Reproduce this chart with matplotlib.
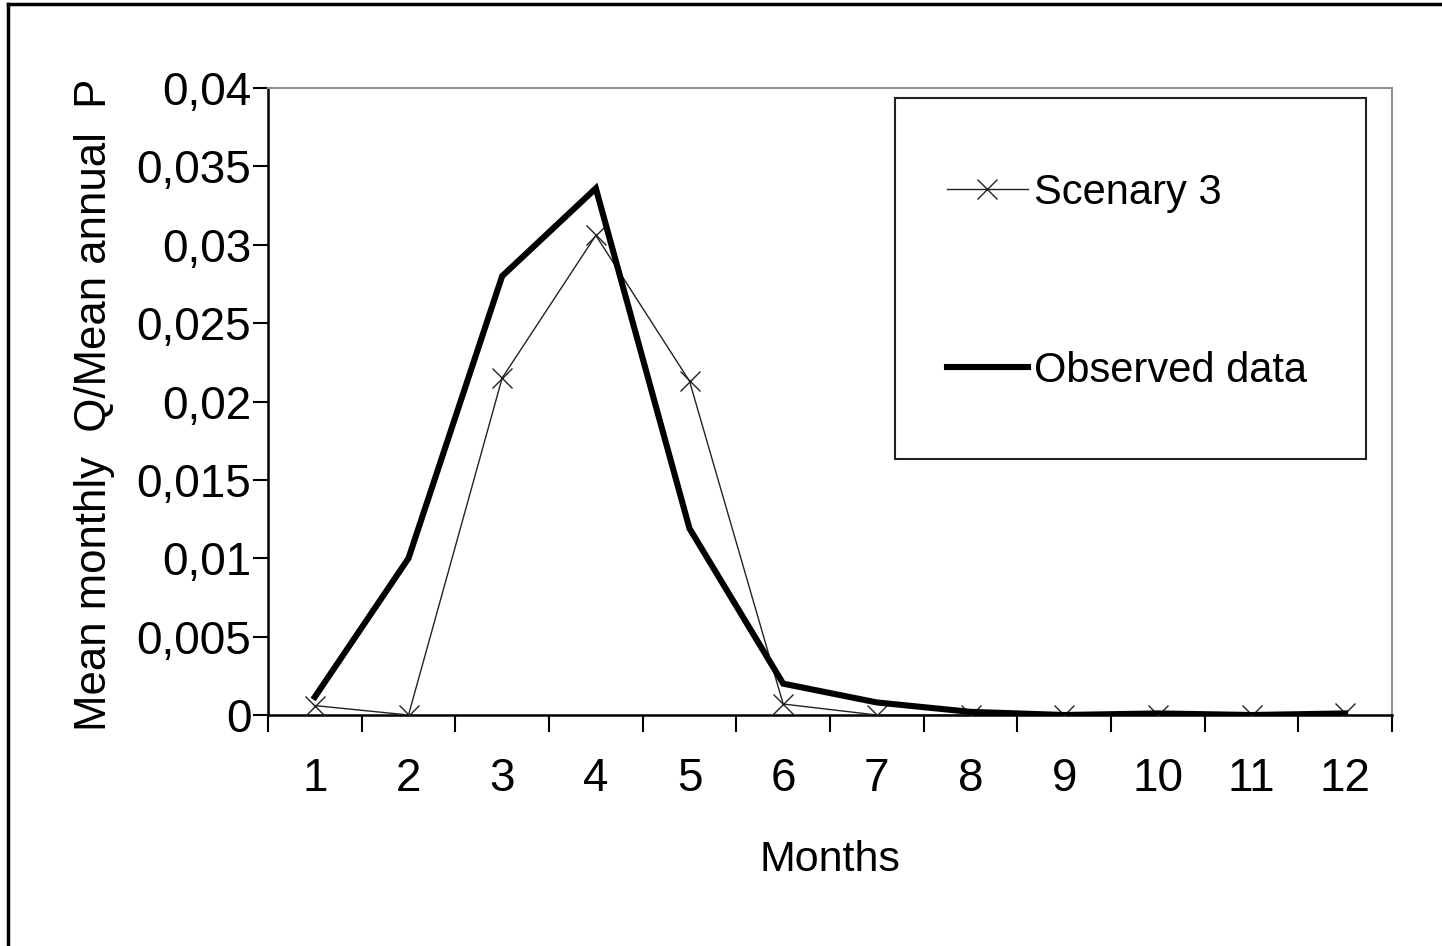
import numpy as np
import matplotlib.pyplot as plt
from matplotlib.patches import Rectangle
from matplotlib.lines import Line2D
from matplotlib.ticker import FuncFormatter, FixedLocator

plt.rcParams["font.family"] = ["Liberation Sans", "DejaVu Sans"]

months = [1, 2, 3, 4, 5, 6, 7, 8, 9, 10, 11, 12]
scenary3 = [0.0006, 0.0, 0.0215, 0.0306, 0.0213, 0.0007, 0.0, 0.0, 0.0, 0.0, 0.0, 0.0001]
observed = [0.00115, 0.0100, 0.0280, 0.0336, 0.0119, 0.0020, 0.0008, 0.0002, 0.0, 0.0001, 0.0, 0.0001]
y_ticks = [0, 0.005, 0.01, 0.015, 0.02, 0.025, 0.03, 0.035, 0.04]

W, H = 1442, 946
fig = plt.figure(figsize=(W / 100, H / 100), dpi=100)
ax = fig.add_axes([268 / W, 1 - 715 / H, (1392 - 268) / W, (715 - 88) / H])

ax.plot(months, scenary3, color="#222222", linewidth=1.0, marker="x",
        markersize=15, markeredgewidth=1.0, label="Scenary 3", zorder=3)
ax.plot(months, observed, color="black", linewidth=4.4, label="Observed data",
        solid_joinstyle="miter", zorder=4)

ax.set_xlim(0.5, 12.5)
ax.set_ylim(0, 0.04)

ax.set_xticks(months)
ax.xaxis.set_minor_locator(FixedLocator(np.arange(0.5, 13, 1)))
ax.tick_params(axis="x", which="major", length=0, pad=30, labelsize=33)
ax.tick_params(axis="x", which="minor", direction="out", length=12, width=1.5)

ax.set_yticks(y_ticks)
ax.yaxis.set_major_formatter(FuncFormatter(
    lambda v, p: "0" if v == 0 else f"{v:g}".replace(".", ",")))
ax.tick_params(axis="y", direction="out", length=11, width=1.5, pad=1, labelsize=33)

for s in ["top", "right"]:
    ax.spines[s].set_color("#909090")
    ax.spines[s].set_linewidth(1.5)
for s in ["left", "bottom"]:
    ax.spines[s].set_color("black")
    ax.spines[s].set_linewidth(1.8)

ax.set_xlabel("Months", fontsize=31, labelpad=28)
fig.text(95 / W, 1 - 405 / H, "Mean monthly  Q/Mean annual  P", rotation=90,
         fontsize=31.5, ha="center", va="center")

# legend box
fig.add_artist(Rectangle((895 / W, 1 - 459 / H), (1366 - 895) / W, (459 - 98) / H,
                         transform=fig.transFigure, fill=False,
                         edgecolor="#222222", linewidth=1.5))
leg = ax.legend(loc="center left", bbox_to_anchor=(926 / W, 1 - 282 / H),
                bbox_transform=fig.transFigure, frameon=False, fontsize=30,
                handlelength=1.95, handletextpad=0.15, labelspacing=3.31,
                borderpad=0)

# figure border (left and top visible)
fig.add_artist(Line2D([8 / W, 8 / W], [0, 1 - 4 / H], transform=fig.transFigure,
                      color="black", linewidth=2.5))
fig.add_artist(Line2D([8 / W, 1], [1 - 4 / H, 1 - 4 / H], transform=fig.transFigure,
                      color="black", linewidth=2.5))

fig.savefig("out.png", dpi=100)
